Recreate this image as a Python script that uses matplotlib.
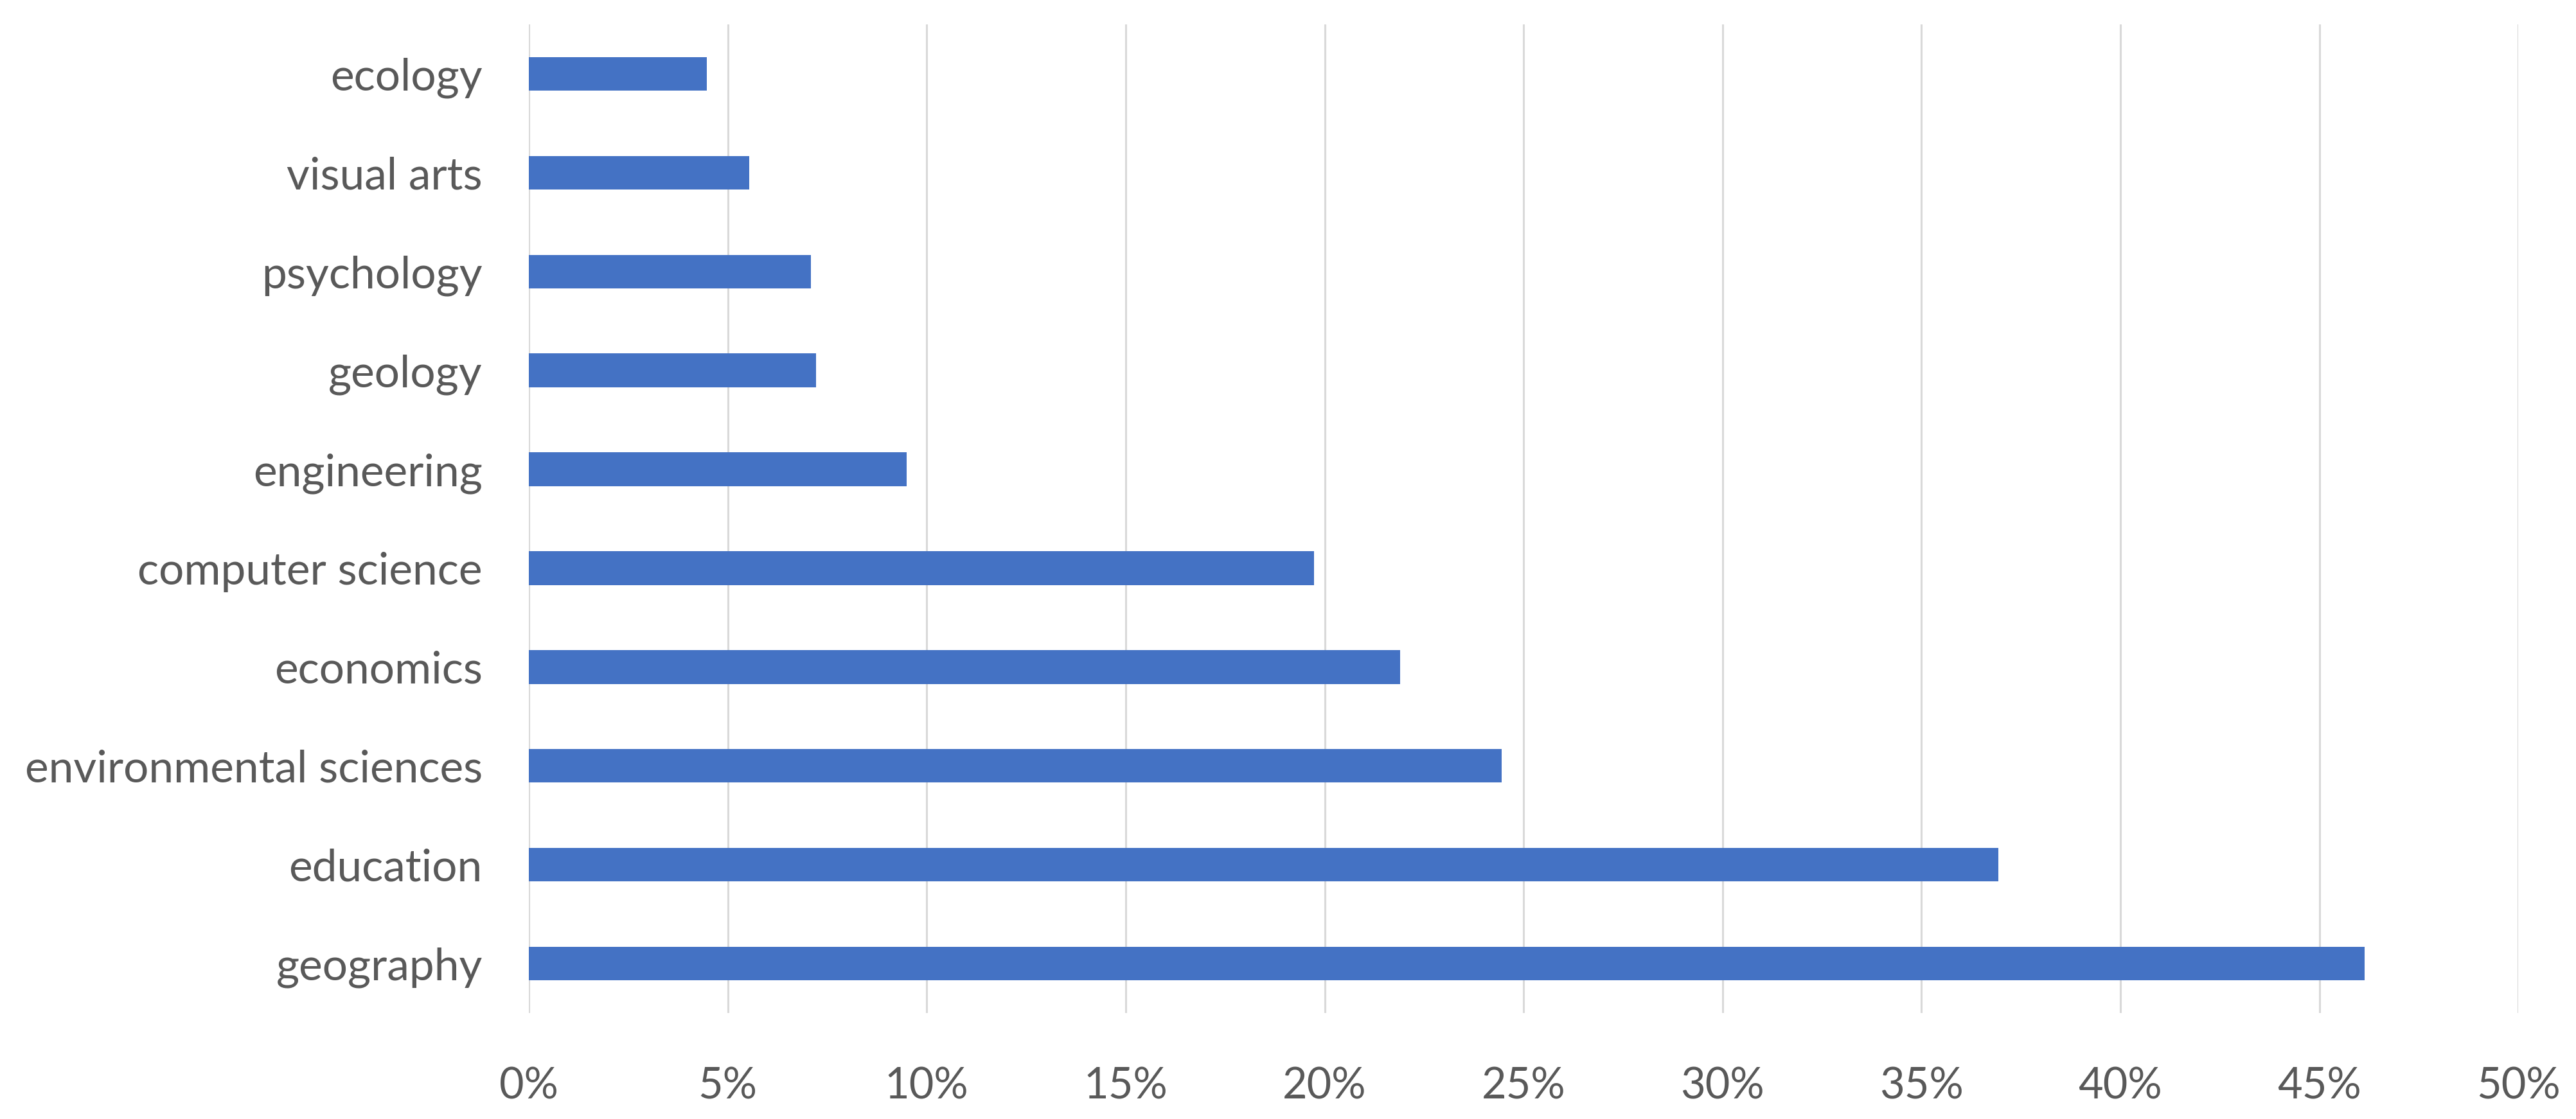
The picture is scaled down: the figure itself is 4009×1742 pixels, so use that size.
import matplotlib.pyplot as plt
from matplotlib.ticker import PercentFormatter

# Dati (dall'alto verso il basso come nel grafico)
categorie = ['ecology', 'visual arts', 'psychology', 'geology', 'engineering',
             'computer science', 'economics', 'environmental sciences',
             'education', 'geography']
percentuali = [4.48, 5.54, 7.09, 7.22, 9.50, 19.73, 21.89, 24.45, 36.93, 46.14]
tick_x = [0, 5, 10, 15, 20, 25, 30, 35, 40, 45, 50]

plt.rcParams['font.family'] = ['Lato', 'DejaVu Sans']

fig = plt.figure(figsize=(40.09, 17.42), dpi=100)
ax = fig.add_axes([0.2053, 0.0947, 0.7723, 0.8835])

pos = list(range(len(categorie)))
ax.barh(pos, percentuali, height=0.34, color='#4472C4', zorder=3)

ax.set_ylim(len(categorie) - 0.5, -0.5)
ax.set_yticks(pos)
ax.set_yticklabels(categorie)
ax.set_xlim(0, 50)
ax.set_xticks(tick_x)
ax.xaxis.set_major_formatter(PercentFormatter(decimals=0))

ax.grid(axis='x', color='#D9D9D9', linewidth=2.2, zorder=0)
ax.grid(axis='y', visible=False)
for s in ax.spines.values():
    s.set_visible(False)

ax.tick_params(axis='both', length=0, labelcolor='#595959')
ax.tick_params(axis='y', labelsize=50, pad=52)
ax.tick_params(axis='x', labelsize=48, pad=60)

plt.savefig('out.png', dpi=100, facecolor='white')
